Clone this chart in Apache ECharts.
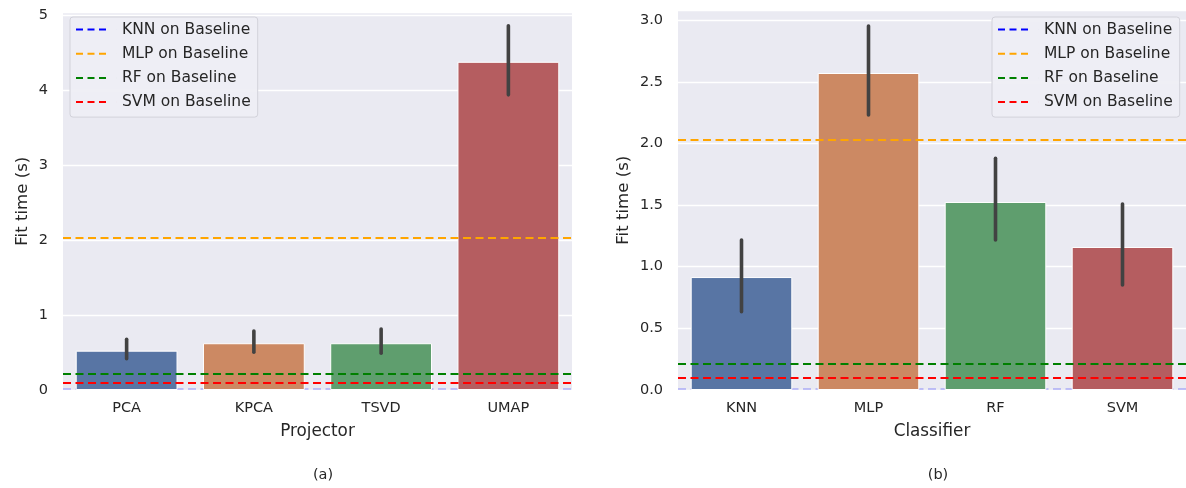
<!DOCTYPE html>
<html>
<head>
<meta charset="utf-8">
<script src="https://cdn.jsdelivr.net/npm/echarts@6/dist/echarts.min.js"></script>
<style>
html,body{margin:0;padding:0;background:#fff;}
#chart{width:1186px;height:488px;}
</style>
</head>
<body>
<div id="chart"></div>
<script>
// ---- data ----
const projectors = ['PCA', 'KPCA', 'TSVD', 'UMAP'];
const projectorFit = [0.524, 0.623, 0.623, 4.373];
const projectorLow = [0.417, 0.503, 0.489, 3.933];
const projectorHigh = [0.676, 0.787, 0.813, 4.853];

const classifiers = ['KNN', 'MLP', 'RF', 'SVM'];
const classifierFit = [0.916, 2.571, 1.525, 1.160];
const classifierLow = [0.635, 2.230, 1.217, 0.852];
const classifierHigh = [1.217, 2.952, 1.880, 1.508];

const baselineNames = ['KNN on Baseline', 'MLP on Baseline', 'RF on Baseline', 'SVM on Baseline'];
const baselineValues = [0.005, 2.03, 0.21, 0.10];

const leftTicks = [0, 1, 2, 3, 4, 5];
const rightTicks = ['0.0', '0.5', '1.0', '1.5', '2.0', '2.5', '3.0'];

// ---- styles ----
const barColors = ['#5875a4', '#cc8963', '#5f9e6e', '#b55d60'];
const baselineColors = ['#0000ff', '#ffa500', '#008000', '#ff0000'];
const FONT = 'DejaVu Sans';
const TXT = '#262626';

function errSeries(gi, low, high) {
  return {
    type: 'custom', xAxisIndex: gi, yAxisIndex: gi, z: 5, silent: true,
    data: low.map((l, i) => [i, l, high[i]]),
    renderItem: function (params, api) {
      const p1 = api.coord([api.value(0), api.value(1)]);
      const p2 = api.coord([api.value(0), api.value(2)]);
      return { type: 'line', shape: { x1: p1[0], y1: p1[1], x2: p2[0], y2: p2[1] },
        style: { stroke: '#424242', lineWidth: 3.6, lineCap: 'round' } };
    }
  };
}
function barSeries(gi, vals) {
  return {
    type: 'bar', xAxisIndex: gi, yAxisIndex: gi, barWidth: '80%', z: 2, silent: true,
    data: vals.map((v, i) => ({ value: v, itemStyle: { color: barColors[i], borderColor: '#ffffff', borderWidth: 1 } }))
  };
}
function baselineSeries(gi) {
  return baselineNames.map((n, k) => ({
    name: n, type: 'line', xAxisIndex: gi, yAxisIndex: gi, data: [],
    color: baselineColors[k], z: k === 0 ? 1 : 4,
    markLine: {
      silent: true, symbol: ['none', 'none'], label: { show: false },
      z: k === 0 ? 1 : 4,
      lineStyle: { color: baselineColors[k], type: [8, 4.5], width: 2, opacity: k === 0 ? 0.2 : 1 },
      data: [{ yAxis: baselineValues[k] }]
    }
  }));
}
function xAx(gi, cats, name) {
  return {
    type: 'category', gridIndex: gi, data: cats, name: name, nameLocation: 'middle', nameGap: 33,
    nameTextStyle: { fontFamily: FONT, fontSize: 16.8, color: TXT },
    axisLine: { show: false }, axisTick: { show: false },
    axisLabel: { fontFamily: FONT, fontSize: 14.5, color: TXT, margin: 11 },
    splitLine: { show: false }
  };
}
function yAx(gi, max, interval, gap, fmt) {
  return {
    type: 'value', gridIndex: gi, min: 0, max: max, interval: interval,
    name: 'Fit time (s)', nameLocation: 'middle', nameGap: gap,
    nameTextStyle: { fontFamily: FONT, fontSize: 16.6, color: TXT },
    axisLine: { show: false }, axisTick: { show: false },
    axisLabel: { fontFamily: FONT, fontSize: 14.5, color: TXT, margin: 15, formatter: fmt, showMaxLabel: false },
    splitLine: { show: true, lineStyle: { color: '#ffffff', width: 1.3 } }
  };
}
function legend(left) {
  return {
    left: left, top: 17, orient: 'vertical', data: baselineNames,
    icon: 'path://M0,0H7V2H0Z M11.5,0H18.5V2H11.5Z M23,0H30V2H23Z M40.99,0H41V2H40.99Z',
    itemWidth: 41, itemHeight: 2, itemGap: 8.2,
    padding: [4.5, 7, 7, 6],
    backgroundColor: 'rgba(238,238,244,0.95)', borderColor: '#d2d2da', borderWidth: 1, borderRadius: 3,
    selectedMode: false,
    textStyle: { fontFamily: FONT, fontSize: 15.5, color: TXT, lineHeight: 15.5 }
  };
}

const chart = echarts.init(document.getElementById('chart'), null, { renderer: 'canvas' });
chart.setOption({
  animation: false,
  backgroundColor: '#ffffff',
  grid: [
    { left: 63, right: 614, top: 12.5, bottom: 98, show: true, backgroundColor: '#eaeaf2', borderWidth: 0 },
    { left: 678, right: 0, top: 10.5, bottom: 98, show: true, backgroundColor: '#eaeaf2', borderWidth: 0 }
  ],
  title: [
    { text: '(a)', left: 318, top: 463, textAlign: 'center', textStyle: { fontFamily: FONT, fontSize: 14.5, fontWeight: 'normal', color: TXT } },
    { text: '(b)', left: 933, top: 463, textAlign: 'center', textStyle: { fontFamily: FONT, fontSize: 14.5, fontWeight: 'normal', color: TXT } }
  ],
  legend: [legend(70), legend(992)],
  xAxis: [xAx(0, projectors, 'Projector'), xAx(1, classifiers, 'Classifier')],
  yAxis: [
    yAx(0, 5.03, 1, 32, v => (v <= 5 ? String(leftTicks[Math.round(v)]) : '')),
    yAx(1, 3.078, 0.5, 46, v => (v <= 3 ? rightTicks[Math.round(v * 2)] : ''))
  ],
  series: [
    barSeries(0, projectorFit), errSeries(0, projectorLow, projectorHigh), ...baselineSeries(0),
    barSeries(1, classifierFit), errSeries(1, classifierLow, classifierHigh), ...baselineSeries(1)
  ]
});
</script>
</body>
</html>
